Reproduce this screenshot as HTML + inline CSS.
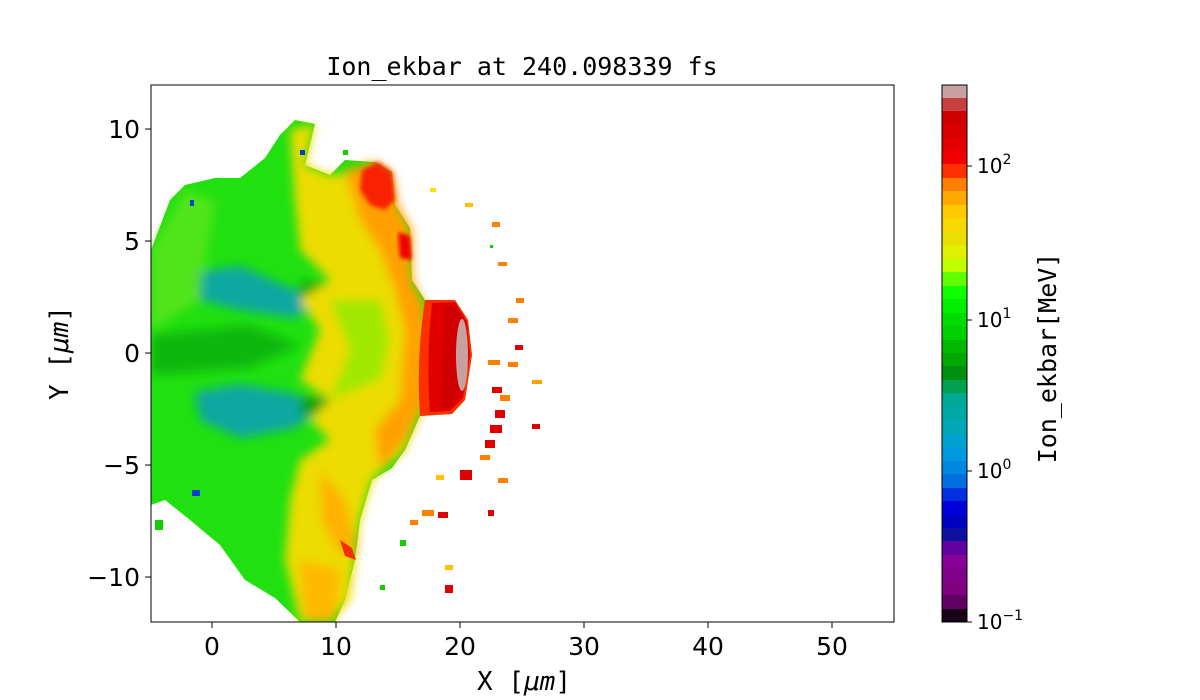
<!DOCTYPE html>
<html><head><meta charset="utf-8"><style>
html,body{margin:0;padding:0;background:#fff;}
svg{display:block;}
text{font-family:"DejaVu Sans","Liberation Sans",sans-serif;fill:#000;}
.m{font-family:"DejaVu Sans Mono","Liberation Mono",monospace;}
</style></head><body>
<svg width="1200" height="700" viewBox="0 0 1200 700" xmlns="http://www.w3.org/2000/svg">
<defs>
<clipPath id="c"><rect x="151" y="85" width="743" height="537"/></clipPath>
<filter id="b" x="-10%" y="-10%" width="120%" height="120%"><feGaussianBlur stdDeviation="5"/></filter>
<filter id="b2"><feGaussianBlur stdDeviation="2"/></filter>
</defs>
<rect x="0" y="0" width="1200" height="700" fill="#fff"/>
<g clip-path="url(#c)">
<path d="M151,250 L170,200 L185,185 L215,178 L240,178 L265,158 L280,135 L295,120 L315,124 L305,165 L330,175 L345,160 L375,162 L392,172 L395,205 L410,228 L412,280 L425,300 L455,300 L468,320 L472,355 L465,400 L452,414 L420,416 L405,450 L392,468 L372,480 L360,520 L355,560 L345,600 L335,622 L300,622 L275,598 L245,580 L220,545 L190,520 L165,500 L151,505 Z" fill="#20e010"/>
<g filter="url(#b)">
<path d="M195,272 L240,266 L295,290 L320,302 L295,318 L240,310 L200,300 Z" fill="#10a8a0"/>
<path d="M195,392 L240,384 L295,394 L320,410 L295,428 L240,438 L200,420 Z" fill="#10a8a0"/>
<path d="M151,335 L250,325 L300,345 L250,368 L151,375 Z" fill="#10b810"/>
<path d="M300,282 L400,287 L400,303 L300,300 Z" fill="#10a010"/>
<path d="M300,397 L400,397 L400,418 L300,415 Z" fill="#10a010"/>
<path d="M151,250 L185,190 L215,200 L200,300 L151,330 Z" fill="#70e820" opacity="0.6"/>
<path d="M290,130 L315,124 L305,165 L330,175 L370,170 L395,205 L410,240 L415,300 L430,330 L430,390 L405,450 L372,480 L360,520 L350,600 L330,622 L300,622 L285,560 L290,500 L300,460 L330,440 L310,420 L330,400 L300,380 L320,330 L300,300 L330,280 L300,250 L295,200 Z" fill="#ecdc00"/>
<path d="M330,300 L380,300 L390,340 L380,380 L330,400 L350,350 Z" fill="#a0e800"/>
<path d="M345,170 L375,162 L392,172 L398,205 L412,230 L412,280 L425,305 L425,400 L405,440 L380,470 L375,430 L400,400 L405,330 L395,290 L380,250 L360,220 Z" fill="#ffa000"/>
<path d="M320,470 L345,500 L358,550 L340,555 L322,520 Z" fill="#ffb000"/>
<path d="M300,560 L340,570 L335,622 L305,622 Z" fill="#ffb800"/>
</g>
<path d="M362,170 L378,162 L392,172 L395,200 L385,210 L370,205 L360,190 Z" fill="#f82000" filter="url(#b2)"/>
<path d="M398,232 L410,236 L412,260 L400,258 Z" fill="#f00000" filter="url(#b2)"/>
<path d="M340,540 L352,548 L356,560 L345,556 Z" fill="#f03000"/>
<path d="M425,300 L455,300 L468,320 L472,355 L465,400 L452,414 L420,416 Q416,358 425,300 Z" fill="#ff3000"/>
<path d="M432,303 L455,302 L467,322 L470,355 L463,398 L450,411 L430,412 Q426,358 432,303 Z" fill="#e00000"/>
<path d="M444,306 L456,306 L465,325 L467,355 L460,395 L448,408 L442,408 Z" fill="#d00000"/>
<ellipse cx="462" cy="355" rx="6" ry="36" fill="#c8a0a0"/>
<g fill="#ff8000">
<rect x="492" y="222" width="8" height="5"/><rect x="498" y="262" width="9" height="4"/>
<rect x="516" y="298" width="8" height="5"/><rect x="508" y="318" width="10" height="5"/>
<rect x="488" y="360" width="12" height="5"/><rect x="508" y="362" width="10" height="5"/>
<rect x="532" y="380" width="10" height="4" fill="#ffa000"/><rect x="500" y="395" width="10" height="6"/>
<rect x="480" y="455" width="10" height="5"/><rect x="498" y="478" width="10" height="5"/>
<rect x="422" y="510" width="12" height="6"/><rect x="410" y="520" width="8" height="5"/>
<rect x="445" y="565" width="8" height="5" fill="#ffc000"/><rect x="436" y="475" width="8" height="5" fill="#ffc000"/>
<rect x="465" y="203" width="8" height="4" fill="#ffc000"/><rect x="430" y="188" width="6" height="4" fill="#ffe000"/>
</g>
<g fill="#e00000">
<rect x="492" y="387" width="10" height="6"/><rect x="495" y="410" width="10" height="8"/>
<rect x="490" y="425" width="12" height="8"/><rect x="485" y="440" width="10" height="8"/>
<rect x="460" y="470" width="12" height="10"/><rect x="438" y="512" width="10" height="6"/>
<rect x="445" y="585" width="8" height="8"/><rect x="532" y="424" width="8" height="5"/>
<rect x="488" y="510" width="6" height="6"/><rect x="515" y="345" width="8" height="5"/>
</g>
<g fill="#10d000">
<rect x="343" y="150" width="5" height="5"/><rect x="490" y="245" width="3" height="3"/>
<rect x="155" y="520" width="8" height="10"/>
<rect x="400" y="540" width="6" height="6"/><rect x="380" y="585" width="5" height="5"/>
</g>
<g fill="#0040d0">
<rect x="192" y="490" width="8" height="6"/><rect x="190" y="200" width="4" height="6"/><rect x="300" y="150" width="5" height="5"/>
</g>
</g>
<rect x="151" y="85" width="743" height="537" fill="none" stroke="#000" stroke-width="1"/>
<g stroke="#000">
<line x1="212" y1="622" x2="212" y2="628"/><line x1="336" y1="622" x2="336" y2="628"/><line x1="460" y1="622" x2="460" y2="628"/><line x1="584" y1="622" x2="584" y2="628"/><line x1="708" y1="622" x2="708" y2="628"/><line x1="832" y1="622" x2="832" y2="628"/>
<line x1="145" y1="129" x2="151" y2="129"/><line x1="145" y1="241" x2="151" y2="241"/><line x1="145" y1="353" x2="151" y2="353"/><line x1="145" y1="465" x2="151" y2="465"/><line x1="145" y1="577" x2="151" y2="577"/>
</g>
<g font-size="25" text-anchor="middle">
<text x="212" y="655">0</text><text x="336" y="655">10</text><text x="460" y="655">20</text><text x="584" y="655">30</text><text x="708" y="655">40</text><text x="832" y="655">50</text>
</g>
<g font-size="25" text-anchor="end">
<text x="140" y="138">10</text><text x="140" y="250">5</text><text x="140" y="362">0</text><text x="140" y="474">−5</text><text x="140" y="586">−10</text>
</g>
<text x="524" y="690" font-size="26" text-anchor="middle" class="m">X [<tspan font-style="italic">μm</tspan>]</text>
<text transform="translate(68,353) rotate(-90)" font-size="26" text-anchor="middle" class="m">Y [<tspan font-style="italic">μm</tspan>]</text>
<text x="522" y="75" font-size="25" text-anchor="middle" class="m">Ion_ekbar at 240.098339 fs</text>
<g>
<rect x="942" y="85" width="25" height="14" fill="#c8a0a0"/>
<rect x="942" y="98" width="25" height="14" fill="#c84040"/>
<rect x="942" y="111" width="25" height="14" fill="#d00000"/>
<rect x="942" y="124" width="25" height="14" fill="#d80000"/>
<rect x="942" y="138" width="25" height="14" fill="#e40000"/>
<rect x="942" y="151" width="25" height="14" fill="#f00000"/>
<rect x="942" y="164" width="25" height="14" fill="#ff3000"/>
<rect x="942" y="178" width="25" height="14" fill="#ff8000"/>
<rect x="942" y="191" width="25" height="14" fill="#ffa800"/>
<rect x="942" y="205" width="25" height="14" fill="#ffc800"/>
<rect x="942" y="218" width="25" height="14" fill="#f8d800"/>
<rect x="942" y="232" width="25" height="14" fill="#e8e000"/>
<rect x="942" y="245" width="25" height="14" fill="#e0f000"/>
<rect x="942" y="259" width="25" height="14" fill="#c0ff00"/>
<rect x="942" y="272" width="25" height="14" fill="#60ff00"/>
<rect x="942" y="286" width="25" height="14" fill="#10ff00"/>
<rect x="942" y="299" width="25" height="14" fill="#00f000"/>
<rect x="942" y="313" width="25" height="14" fill="#00dc00"/>
<rect x="942" y="326" width="25" height="14" fill="#00d000"/>
<rect x="942" y="340" width="25" height="14" fill="#00b800"/>
<rect x="942" y="353" width="25" height="14" fill="#00a800"/>
<rect x="942" y="366" width="25" height="14" fill="#009010"/>
<rect x="942" y="380" width="25" height="14" fill="#00a050"/>
<rect x="942" y="393" width="25" height="14" fill="#00a898"/>
<rect x="942" y="407" width="25" height="14" fill="#00a8a8"/>
<rect x="942" y="420" width="25" height="14" fill="#00a8b8"/>
<rect x="942" y="434" width="25" height="14" fill="#00a0d0"/>
<rect x="942" y="447" width="25" height="14" fill="#0098e0"/>
<rect x="942" y="461" width="25" height="14" fill="#0088e0"/>
<rect x="942" y="474" width="25" height="14" fill="#0070e0"/>
<rect x="942" y="488" width="25" height="14" fill="#0030e0"/>
<rect x="942" y="501" width="25" height="14" fill="#0000d8"/>
<rect x="942" y="515" width="25" height="14" fill="#0000c0"/>
<rect x="942" y="528" width="25" height="14" fill="#1010a0"/>
<rect x="942" y="541" width="25" height="14" fill="#6000a0"/>
<rect x="942" y="555" width="25" height="14" fill="#880098"/>
<rect x="942" y="568" width="25" height="14" fill="#800088"/>
<rect x="942" y="582" width="25" height="14" fill="#800080"/>
<rect x="942" y="595" width="25" height="14" fill="#600060"/>
<rect x="942" y="609" width="25" height="13" fill="#180018"/>
<rect x="942" y="85" width="25" height="537" fill="none" stroke="#000" stroke-width="1"/>
<g stroke="#000"><line x1="967" y1="166" x2="972" y2="166"/><line x1="967" y1="320" x2="972" y2="320"/><line x1="967" y1="471" x2="972" y2="471"/><line x1="967" y1="622" x2="972" y2="622"/></g>
<g font-size="20">
<text x="977" y="173">10<tspan font-size="14" dy="-9">2</tspan></text>
<text x="977" y="327">10<tspan font-size="14" dy="-9">1</tspan></text>
<text x="977" y="478">10<tspan font-size="14" dy="-9">0</tspan></text>
<text x="977" y="629">10<tspan font-size="14" dy="-9">−1</tspan></text>
</g>
<text transform="translate(1056,358) rotate(-90)" font-size="25" text-anchor="middle" class="m">Ion_ekbar[MeV]</text>
</g>
</svg>
</body></html>
